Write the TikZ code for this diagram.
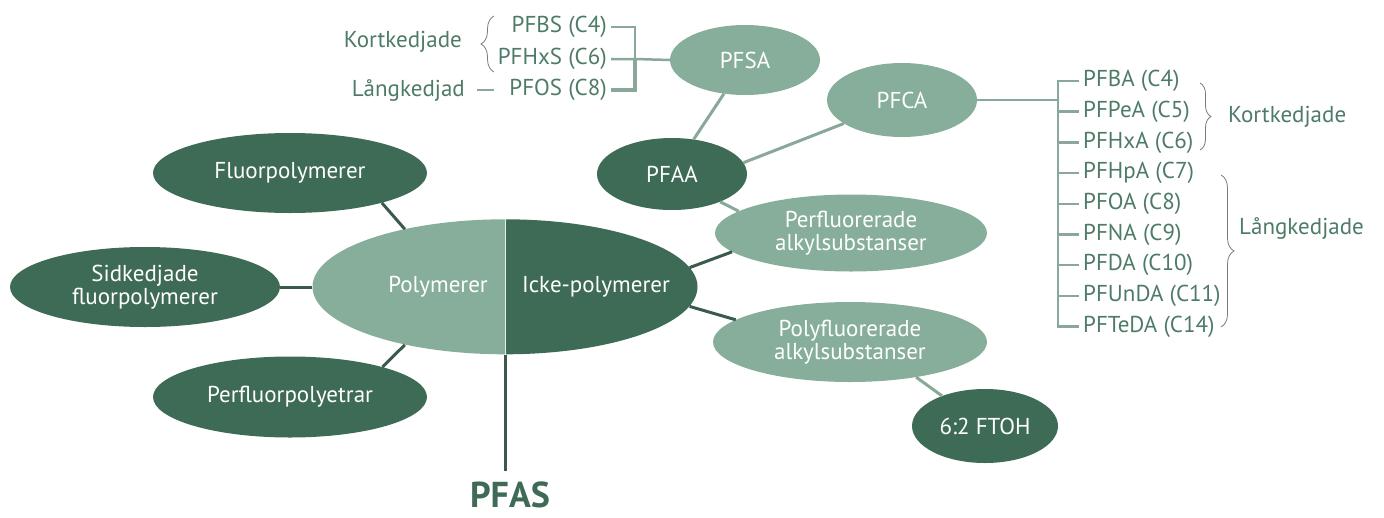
\documentclass[tikz,border=0pt]{standalone}
\usepackage{fontspec}
\setmainfont{PT Sans}
\usetikzlibrary{shapes.geometric,decorations.pathreplacing}
\definecolor{darkgreen}{HTML}{3E6B55}
\definecolor{lightgreen}{HTML}{86AE9A}
\definecolor{labelgreen}{HTML}{4E7B67}
\definecolor{linegray}{HTML}{8AA899}
\definecolor{linedark}{HTML}{3A5B4B}
\definecolor{bracegray}{HTML}{7A7A7A}

\begin{document}
\begin{tikzpicture}[x=1pt,y=-1pt,
  dark/.style={ellipse,fill=darkgreen,text=white,inner sep=0pt,align=center,font=\fontsize{23}{23}\selectfont},
  light/.style={dark,fill=lightgreen},
  item/.style={text=labelgreen,inner sep=4pt,font=\fontsize{23}{23}\selectfont},
  link/.style={linegray,line width=3pt},
  linkdark/.style={linedark,line width=3pt},
  bar/.style={linegray,line width=2.5pt},
  curly/.style={bracegray,line width=0.8pt,decorate,decoration={brace,amplitude=#1}}]
 \useasboundingbox (0,0) rectangle (1384,517);

 \node[ellipse,minimum width=385pt,minimum height=135pt,inner sep=0pt] (group) at (505,287) {};
 \fill[lightgreen] (group.north) arc[start angle=90,end angle=270,x radius=192.5pt,y radius=67.5pt] -- cycle;
 \fill[darkgreen] (group.north) arc[start angle=90,end angle=-90,x radius=192.5pt,y radius=67.5pt] -- cycle;
 \draw[white!80!lightgreen,line width=1pt] (group.north) -- (group.south);
 \node[text=white,font=\fontsize{23}{23}\selectfont] (poly) at (438,287) {Polymerer};
 \node[text=white,font=\fontsize{23}{23}\selectfont] (icke) at (596,287) {Icke-polymerer};
 \node[text=darkgreen,inner sep=0pt,font=\fontsize{36}{36}\selectfont\bfseries] (pfas) at (510,495) {PFAS};
 \draw[linkdark,shorten >=11pt] (group.south) -- (group.south |- pfas.north);

 \node[dark,minimum width=274pt,minimum height=80pt] (fluor) at (290,173) {Fluorpolymerer};
 \node[dark,minimum width=270pt,minimum height=80pt] (side) at (145,287) {Sidkedjade\\fluorpolymerer};
 \node[dark,minimum width=274pt,minimum height=81pt] (perpoly) at (290,397) {Perfluorpolyetrar};
 \draw[linkdark] (fluor.-18) -- (group.150);
 \draw[linkdark] (side.east) -- (group.west);
 \draw[linkdark] (perpoly.18) -- (group.210);

 \node[light,minimum width=150pt,minimum height=70pt] (pfsa) at (745,60) {PFSA};
 \node[light,minimum width=150pt,minimum height=74pt] (pfca) at (902,100) {PFCA};
 \node[dark,minimum width=150pt,minimum height=72pt] (pfaa) at (672,174) {PFAA};
 \node[light,minimum width=272pt,minimum height=77pt] (perfl) at (851,233) {Perfluorerade\\alkylsubstanser};
 \node[light,minimum width=274pt,minimum height=80pt] (polyfl) at (850,342) {Polyfluorerade\\alkylsubstanser};
 \node[dark,minimum width=146pt,minimum height=74pt] (ftoh) at (985,426) {6:2 FTOH};
 \draw[link] (pfaa.58) -- (pfsa.238);
 \draw[link] (pfaa.9) -- (pfca.202);
 \draw[link] (pfaa.-30) -- (perfl.169);
 \draw[linkdark] (group.6) -- (perfl.189);
 \draw[linkdark] (group.-6) -- (polyfl.169);
 \draw[link] (polyfl.-28) -- (ftoh.145);

 \node[item,anchor=east] (pfbs) at (611,27) {PFBS (C4)};
 \node[item,anchor=east] (pfhxs) at (611,59) {PFHxS (C6)};
 \node[item,anchor=east] (pfos) at (611,90) {PFOS (C8)};
 \coordinate (sjoin) at (635,59);
 \draw[bar] (pfbs.east) -| (sjoin);
 \draw[bar,line width=4pt] (pfos.east) -| (sjoin);
 \draw[bar] (pfhxs.east) -- (sjoin) -- (pfsa.west);
 \node[item,anchor=east] (kortS) at (466,42) {Kortkedjade};
 \node[item,anchor=east] (langS) at (469,90) {Långkedjad};
 \draw[curly=13pt] (494,72) -- (494,16);
 \draw[linegray,line width=1.5pt,shorten <=8pt,shorten >=11pt] (langS.east) -- (pfos.west);

 \foreach \name [count=\i from 0] in {PFBA (C4),PFPeA (C5),PFHxA (C6),PFHpA (C7),PFOA (C8),PFNA (C9),PFDA (C10),PFUnDA (C11),PFTeDA (C14)}
  \node[item,anchor=west] (c\i) at (1079,81+30.7*\i) {\name};
 \coordinate (cbar) at (1058,100);
 \draw[bar] (c0.west) -| (c8.west -| cbar) -- (c8.west);
 \foreach \i in {1,...,7}
  \draw[bar] (c\i.west) -- (c\i.west -| cbar);
 \draw[bar] (pfca.east) -- (cbar);
 \draw[curly=11pt] (1200,83) -- (1200,150);
 \draw[curly=13pt] (1221,175) -- (1221,327);
 \node[item,anchor=west] (kortC) at (1224,117) {Kortkedjade};
 \node[item,anchor=west] (langC) at (1235,228) {Långkedjade};
\end{tikzpicture}
\end{document}
